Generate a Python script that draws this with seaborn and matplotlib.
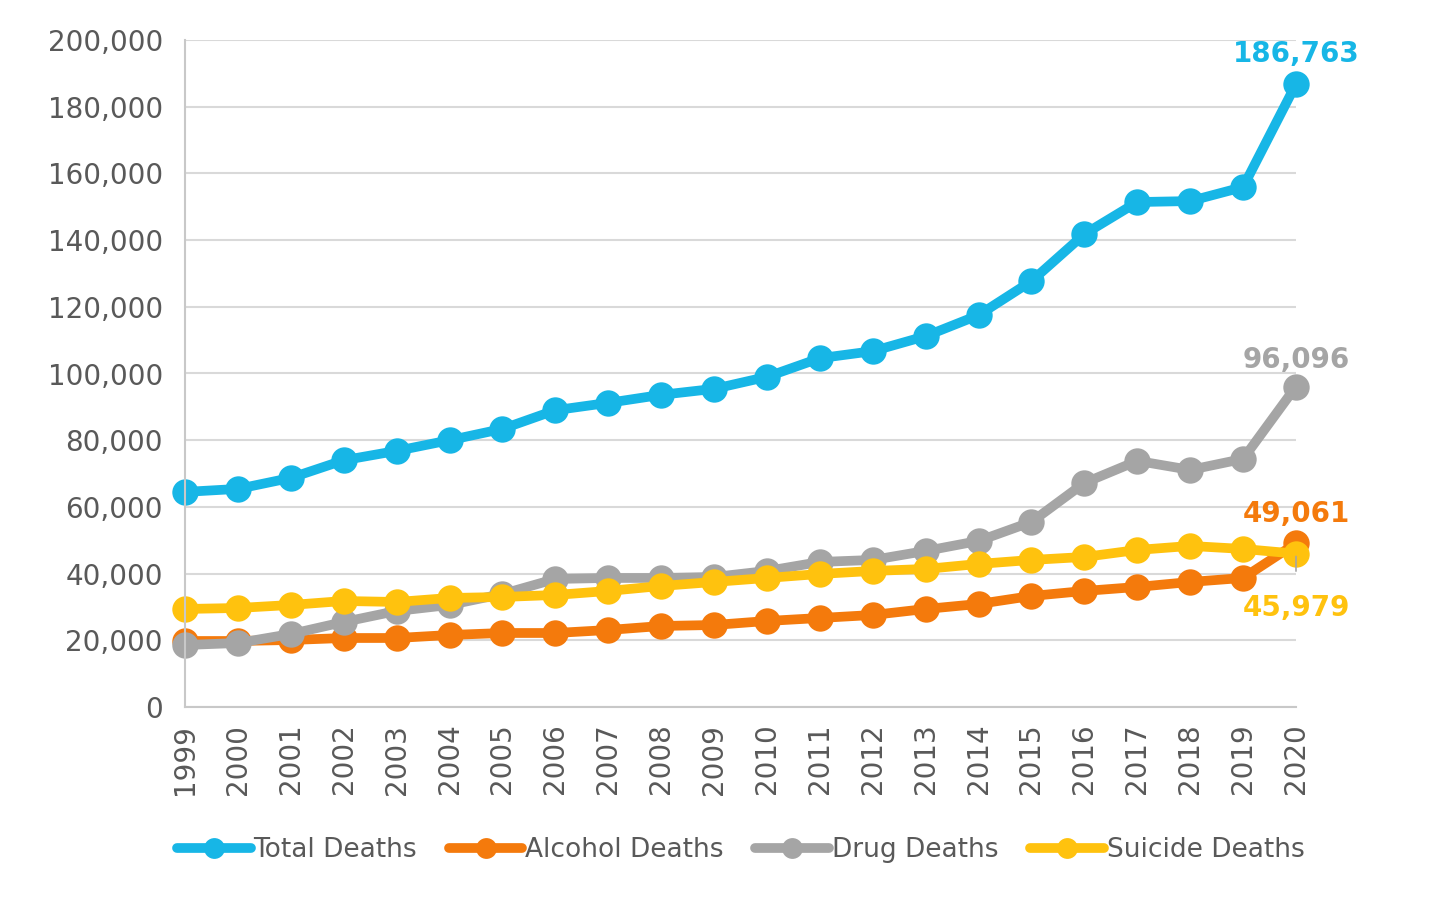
import numpy as np
import pandas as pd
import matplotlib
matplotlib.use("Agg")
import matplotlib.pyplot as plt
import matplotlib.ticker as mticker
import seaborn as sns

years = list(range(1999, 2021))

total_deaths = [64500, 65400, 68700, 74000, 76800, 80000, 83400, 89000, 91200, 93600, 95400,
                99000, 104600, 106700, 111200, 117500, 127700, 141800, 151400, 151700, 155900, 186763]
alcohol_deaths = [19800, 19800, 20100, 20700, 20700, 21600, 22200, 22200, 23100, 24300, 24600,
                  25800, 26700, 27600, 29400, 30900, 33300, 34800, 36000, 37500, 38700, 49061]
drug_deaths = [18600, 19200, 21900, 25500, 28800, 30600, 33900, 38400, 38700, 38700, 39000,
               40800, 43500, 44100, 46800, 49800, 55500, 67200, 73800, 71100, 74400, 96096]
suicide_deaths = [29400, 29700, 30600, 31800, 31500, 32700, 33000, 33600, 34800, 36300, 37500,
                  38700, 39900, 40800, 41400, 42900, 44100, 45000, 47100, 48300, 47400, 45979]

series_names = ["Total Deaths", "Alcohol Deaths", "Drug Deaths", "Suicide Deaths"]
series_values = [total_deaths, alcohol_deaths, drug_deaths, suicide_deaths]
colors = ["#17B6E6", "#F47A0C", "#A5A5A5", "#FFC20E"]

sns.set_style("white")
plt.rcParams['font.family'] = ['DejaVu Sans']

fig = plt.figure(figsize=(14.4, 9), dpi=100)
ax = fig.add_axes([0.1285, 0.2144, 0.7715, 0.7412])

for name, vals, col in zip(series_names, series_values, colors):
    sns.lineplot(x=years, y=vals, ax=ax, color=col, linewidth=7, marker='o',
                 markersize=19, markeredgewidth=0, label=name, clip_on=False,
                 solid_capstyle='round')

ax.set_xlim(1999, 2020)
ax.set_ylim(0, 200000)
ax.set_yticks(np.arange(0, 200001, 20000))
ax.yaxis.set_major_formatter(mticker.FuncFormatter(lambda v, p: f"{int(v):,}"))
ax.set_xticks(years)
ax.set_xticklabels([str(y) for y in years], rotation=90)
ax.tick_params(axis='both', length=0, labelsize=20, colors="#595959")
ax.tick_params(axis='y', pad=16)
ax.tick_params(axis='x', pad=12)
ax.set_xlabel("")
ax.set_ylabel("")

ax.grid(axis='y', color="#D9D9D9", linewidth=1.5)
ax.set_axisbelow(True)
for s in ["top", "right"]:
    ax.spines[s].set_visible(False)
for s in ["left", "bottom"]:
    ax.spines[s].set_color("#C8C8C8")
    ax.spines[s].set_linewidth(1.5)

# end-point labels
ax.annotate(f"{total_deaths[-1]:,}", (2020, total_deaths[-1]), xytext=(0, 22),
            textcoords="offset points", ha='center', va='center', fontsize=20,
            fontweight='bold', color=colors[0])
ax.annotate(f"{drug_deaths[-1]:,}", (2020, drug_deaths[-1]), xytext=(0, 19),
            textcoords="offset points", ha='center', va='center', fontsize=20,
            fontweight='bold', color=colors[2])
ax.annotate(f"{alcohol_deaths[-1]:,}", (2020, alcohol_deaths[-1]), xytext=(0, 21),
            textcoords="offset points", ha='center', va='center', fontsize=20,
            fontweight='bold', color=colors[1])
ax.annotate(f"{suicide_deaths[-1]:,}", (2020, suicide_deaths[-1]), xytext=(0, -39),
            textcoords="offset points", ha='center', va='center', fontsize=20,
            fontweight='bold', color=colors[3],
            arrowprops=dict(arrowstyle='-', color="#A5A5A5", lw=1.2, shrinkA=14, shrinkB=2))

leg = ax.legend(loc='upper center', bbox_to_anchor=(0.5, -0.179), ncol=4, frameon=False,
                fontsize=19, handlelength=2.8, columnspacing=1.2, handletextpad=0.1,
                borderaxespad=0)
for h in leg.get_lines():
    h.set_markersize(15)
for t in leg.get_texts():
    t.set_color("#595959")

fig.savefig("out.png", dpi=100, facecolor="white")
